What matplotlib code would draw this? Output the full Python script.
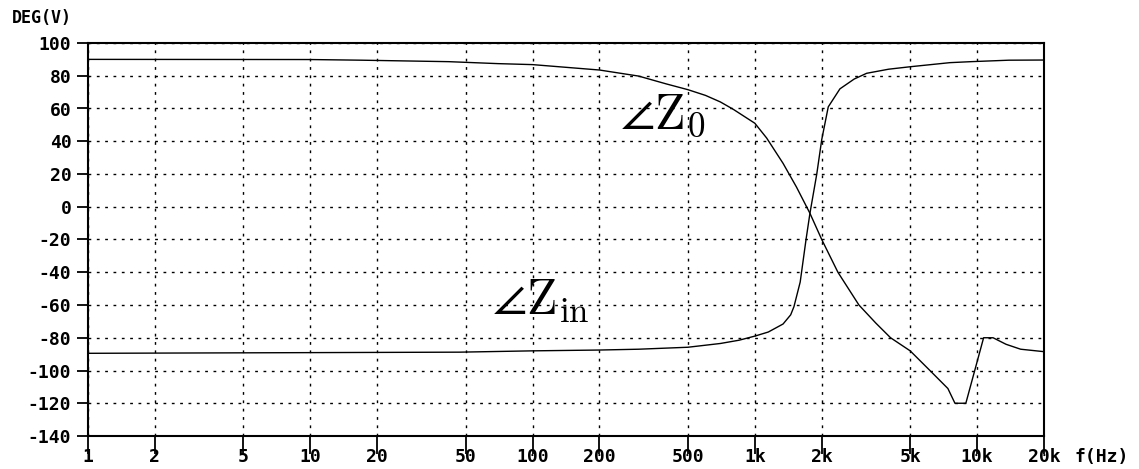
import matplotlib
matplotlib.use("Agg")
import matplotlib.pyplot as plt
from matplotlib.ticker import FixedLocator, NullLocator

plt.rcParams["mathtext.fontset"] = "cm"

# phase of Z0 (deg) vs frequency (Hz)
z0_freq = [1, 10, 17, 42, 70, 100, 200, 300, 400, 500, 600, 700, 800, 1000,
           1130, 1340, 1540, 1770, 2000, 2365, 2940, 3500, 4080, 5000, 6135,
           7390, 7950, 8900, 10700, 11800, 13500, 15700, 20000]
z0_deg = [90, 89.9, 89.5, 88.6, 87.4, 86.8, 83.5, 79.8, 75, 71.5, 68, 64,
          59.5, 51, 42, 26.5, 12, -4, -20, -40, -60, -71, -80, -88, -100,
          -111, -120, -120, -80, -80, -84, -87, -88.5]

# phase of Zin (deg) vs frequency (Hz)
zin_freq = [1, 47, 100, 200, 300, 500, 700, 850, 1000, 1150, 1340, 1450,
            1500, 1600, 1700, 1770, 1900, 2000, 2140, 2415, 2800, 3185, 4000,
            5000, 7550, 9380, 13900, 20000]
zin_deg = [-89.5, -88.8, -88, -87.5, -87, -85.8, -83.5, -81.5, -79, -76.5,
           -71.6, -66, -61, -46, -20, -4, 20, 41, 61, 72, 78, 81.5, 84, 85.5,
           88, 88.6, 89.5, 89.6]

x_ticks = [1, 2, 5, 10, 20, 50, 100, 200, 500, 1000, 2000, 5000, 10000, 20000]
x_labels = ["1", "2", "5", "10", "20", "50", "100", "200", "500",
            "1k", "2k", "5k", "10k", "20k"]
y_ticks = list(range(-140, 101, 20))
y_labels = [str(v) for v in y_ticks]

tick_font = dict(family="DejaVu Sans Mono", weight="bold", size=13)

fig = plt.figure(figsize=(11.39, 4.69), dpi=100)
ax = fig.add_axes([88 / 1139, 1 - 436 / 469, (1044 - 88) / 1139, (436 - 43) / 469])

ax.semilogx(z0_freq, z0_deg, color="black", lw=1.0)
ax.semilogx(zin_freq, zin_deg, color="black", lw=1.0)

ax.set_xlim(1, 20000)
ax.set_ylim(-140, 100)

ax.xaxis.set_major_locator(FixedLocator(x_ticks))
ax.xaxis.set_minor_locator(NullLocator())
ax.set_xticklabels(x_labels, **tick_font)
ax.set_yticks(y_ticks)
ax.set_yticklabels(y_labels, **tick_font)

ax.tick_params(axis="y", direction="out", length=8, width=1.3, pad=4)
ax.tick_params(axis="x", direction="out", length=13, width=1.3, pad=-4.5)

ax.grid(True, color="black", linestyle=(0, (2, 4)), linewidth=1.0)

for s in ax.spines.values():
    s.set_linewidth(1.5)

fig.text(12 / 1139, 1 - 18 / 469, "DEG(V)", ha="left", va="center",
         family="DejaVu Sans Mono", weight="bold", size=12)
fig.text(1075 / 1139, 1 - 457 / 469, "f(Hz)", ha="left", va="center",
         family="DejaVu Sans Mono", weight="bold", size=13)

# curve labels
ax.text(247, 47.5, r"$\angle\mathrm{Z}_0$", fontsize=36, ha="left",
        va="baseline")
ax.text(66, -66, r"$\angle\mathrm{Z}_{\mathrm{in}}$", fontsize=36, ha="left",
        va="baseline")

fig.savefig("out.png", dpi=100)
